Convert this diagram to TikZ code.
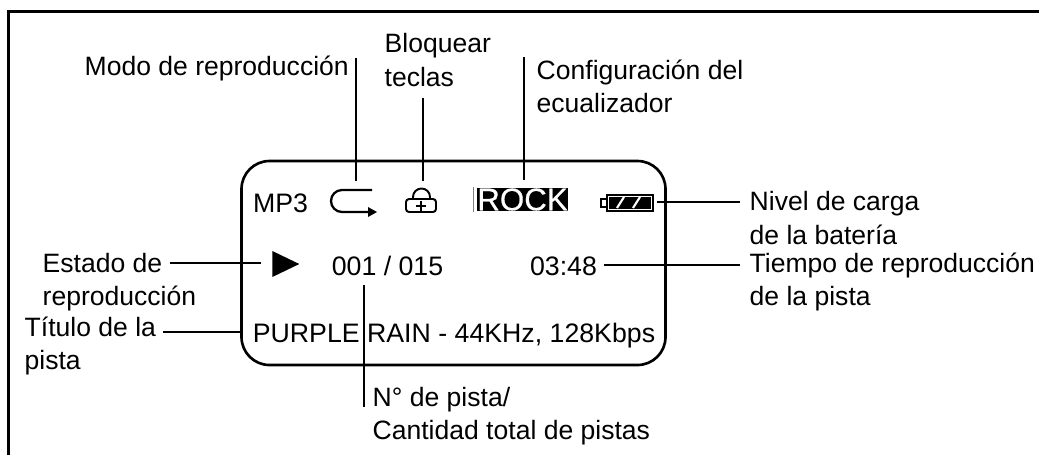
\documentclass[tikz,border=0pt]{standalone}
\usepackage{fontspec}
\setmainfont{Liberation Sans}
\usetikzlibrary{shapes.geometric}
\begin{document}
\begin{tikzpicture}
\tikzstyle{callout} = [anchor=west, align=left, inner sep=0pt, font=\fontsize{7.55pt}{9.4pt}\selectfont]
\tikzstyle{lcdtext} = [anchor=center, inner sep=0pt, font=\fontsize{7.6pt}{9.4pt}\selectfont]
\tikzstyle{hitbox}  = [rectangle, inner sep=0pt, draw opacity=0]
\tikzstyle{leader}  = [line width=0.75pt, black]
\tikzstyle{icon}    = [line width=0.55pt, black]
\useasboundingbox (0.00, 0.00) rectangle (10.39, 4.55);
\draw[line width=0.85pt, black] (0.085, 0.00) -- (0.085, 4.435) -- (10.39, 4.435);
\node[rectangle, draw=black, line width=0.75pt, rounded corners=0.28cm, minimum width=4.24cm, minimum height=2.04cm] at (4.535, 1.92) (screen) {};
% texts around the screen
\node[callout] at (0.84, 3.87) (modo) {Modo de reproducción};
\node[callout] at (3.84, 3.95) (bloquear) {Bloquear\\[0.1pt]teclas};
\node[callout] at (5.36, 3.69) (config) {Configuración del\\ecualizador};
\node[callout] at (7.49, 2.37) (nivel) {Nivel de carga\\de la batería};
\node[callout] at (7.49, 1.73) (tiempo) {Tiempo de reproducción\\de la pista};
\node[callout] at (0.42, 1.73) (estado) {Estado de\\reproducción};
\node[callout] at (0.24, 1.09) (titulo) {Título de la\\pista};
\node[callout] at (3.72, 0.385) (numero) {N° de pista/\\Cantidad total de pistas};
% texts on the screen
\node[lcdtext] at (2.805, 2.52) (mp3) {MP3};
\node[lcdtext] at (3.875, 1.89) (pista) {001 / 015};
\node[lcdtext] at (5.635, 1.89) (reloj) {03:48};
\node[lcdtext] at (4.54, 1.19) (titulo_txt) {PURPLE RAIN - 44KHz, 128Kbps};
\node[rectangle, fill=black, text=white, inner sep=0pt, minimum width=0.87cm, minimum height=0.23cm, text height=0.215cm, text depth=0pt, font=\fontsize{8.9pt}{9pt}\selectfont\addfontfeature{FakeBold=0.5}] at (5.225, 2.555) (rock) {ROCK};
\draw[line width=0.25pt, gray] ([xshift=-0.03cm]rock.north west) -- ([xshift=-0.03cm]rock.south west);
\node[isosceles triangle, isosceles triangle apex angle=52, isosceles triangle stretches, fill=black, inner sep=0pt, minimum width=0.26cm, minimum height=0.27cm] at (2.805, 1.91) (play) {};
% icons
\node[hitbox, minimum width=0.46cm, minimum height=0.36cm] at (3.54, 2.55) (repeat_ic) {};
\draw[icon, line width=0.65pt] (3.72, 2.65) -- (3.42, 2.65) arc (90:270:0.11) -- (3.72, 2.43);
\fill[black] (3.68, 2.48) -- (3.77, 2.43) -- (3.68, 2.38) -- cycle;
\node[hitbox, minimum width=0.30cm, minimum height=0.30cm] at (4.21, 2.58) (lock_ic) {};
\draw[icon, rounded corners=0.03cm] (4.06, 2.43) rectangle (4.36, 2.56);
\draw[icon] (4.13, 2.56) -- (4.13, 2.58) arc (180:0:0.085) -- (4.30, 2.56);
\draw[icon] (4.16, 2.49) -- (4.26, 2.49) (4.21, 2.44) -- (4.21, 2.54);
\node[rectangle, draw=black, fill=black, line width=0.75pt, inner sep=0pt, minimum width=0.40cm, minimum height=0.10cm] at (6.30, 2.52) (battery) {};
\draw[line width=0.3pt, black] (6.07, 2.60) rectangle (6.53, 2.44);
\draw[line width=0.35pt, black] (6.07, 2.56) -- (6.01, 2.56) -- (6.01, 2.48) -- (6.07, 2.48);
\draw[line width=0.6pt, white] (6.17, 2.47) -- (6.24, 2.58) (6.33, 2.47) -- (6.40, 2.58);
% leaders
\coordinate (modo_c) at (3.56, 3.97);
\coordinate (lock_c) at (4.23, 3.57);
\coordinate (rock_c) at (5.24, 3.98);
\coordinate (nivel_c) at (7.40, 2.53);
\coordinate (nivel_d) at (6.57, 2.53);
\coordinate (tiempo_c) at (7.40, 1.90);
\coordinate (estado_c) at (1.70, 1.92);
\coordinate (titulo_c) at (1.63, 1.23);
\coordinate (numero_c) at (3.64, 0.48);
\coordinate (numero_d) at (3.64, 1.70);
\draw[leader] (modo_c) -- (modo_c |- repeat_ic.north);
\draw[leader] (lock_c) -- (lock_c |- lock_ic.north);
\draw[leader, shorten >=0.07cm] (rock_c) -- (rock_c |- rock.north);
\draw[leader] (nivel_d) -- (nivel_c);
\draw[leader, shorten <=0.06cm] (reloj.east |- tiempo_c) -- (tiempo_c);
\draw[leader, shorten >=0.11cm] (estado_c) -- (estado_c -| play.west);
\draw[leader] (titulo_c) -- (titulo_c -| screen.west);
\draw[leader] (numero_c) -- (numero_d);
\end{tikzpicture}
\end{document}
